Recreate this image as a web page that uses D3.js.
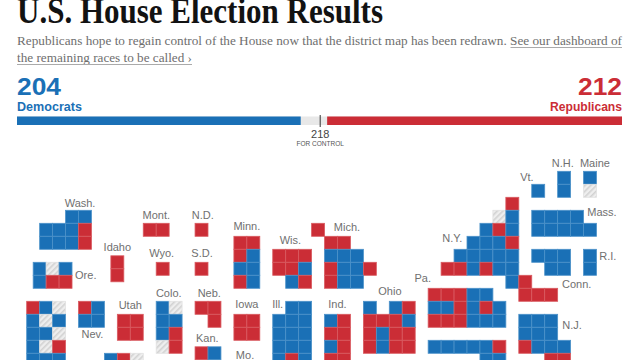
<!DOCTYPE html>
<html><head><meta charset="utf-8">
<script src="https://cdn.jsdelivr.net/npm/d3@7"></script>
<style>html,body{margin:0;padding:0;background:#fff;overflow:hidden}svg{display:block}</style>
</head><body><svg id="c" width="640" height="360"></svg>
<script>
const demSeats = 204, repSeats = 212, controlSeats = 218, totalSeats = 435;
const stateNames = ["Wash.","Mont.","N.D.","Idaho","Wyo.","S.D.","Ore.","Colo.","Neb.","Utah","Nev.","Kan.","Minn.","Wis.","Mich.","Iowa","Ill.","Ind.","Ohio","Pa.","Mo.","Vt.","N.H.","Maine","Mass.","N.Y.","R.I.","Conn.","N.J."];
const labelCols = [6.12,12.01,15.59,9.0,12.42,15.54,6.56,12.97,16.1,10.0,7.07,15.95,19.0,22.36,26.73,19.0,21.38,26.0,30.05,32.58,18.86,40.63,43.39,45.88,46.42,34.87,46.87,44.47,44.11];
const labelRows = [3.73,4.65,4.65,7.1,7.57,7.59,9.31,10.65,10.65,11.62,13.85,14.11,5.52,6.59,5.59,11.51,11.51,11.51,10.49,9.54,15.44,1.72,0.69,0.69,4.44,6.44,7.82,9.97,13.11];
// seat blocks: grid origin (column,row) and one string per row. D dem, R rep, T undecided
const blockCols = [3,11,15,8.5,12,15,2.5,12,15,9,6,15,18,21,24,18,21,25,28,33,41,43,45,41,34,45,41,40,2,8,33];
const blockRows = [4,5,5,7.5,8,8,8,11,11,12,11,14.5,6,7,5,12,11,12,11,10,2,1,1,4,3,7,7,12,11,15,14];
const blockSeats = [
 ["..DD","DDDR","DDDR"],["RR"],["R"],["R","R"],["R"],["R"],["DTD","DRR"],
 ["DT","DD","DR","TR"],["RR",".R"],["RR","RR"],["RD","DD"],["RD"],
 ["RR","RD","DD","RD"],["RRR","RRD",".DR"],[ "R..",".RR",".DDD",".RDDR",".RDD"],
 ["RR","RR"],[".DD","DDD","DDD","DDD","DRD"],["DR","RR","DR","RR"],
 ["D.DR","RRRD","RDRR","RDRR"],["RRRDD","DDRDRD","RRRDDD"],
 ["D"],["D","D"],["D","T"],["DDDD","DDDDD"],
 [".....R","....TD","...DRD","..DDDR",".DDDDD","RRDRDD",".....DR","......RRR"],
 ["D","D"],["DDD",".DD"],["DDD","DDD","RDDD","..RR"],
 ["RDT","DTD","DDT","DTR","DDD"],["DRT"],["DDDDDR","....DD"]
];
const titleText = "U.S. House Election Results";
const subText1 = "Republicans hope to regain control of the House now that the district map has been redrawn. See our dashboard of";
const subText2 = "the remaining races to be called ›";

const BLUE="#1a70b6", RED="#cb2d36", GREY="#e8e8e8";
const svg=d3.select("#c");
const defs=svg.append("defs");
const pat=defs.append("pattern").attr("id","hatch").attr("patternUnits","userSpaceOnUse").attr("width",4).attr("height",4).attr("patternTransform","rotate(-45)");
pat.append("rect").attr("width",4).attr("height",4).attr("fill","#eeeeee");
pat.append("rect").attr("width",4).attr("height",1.6).attr("fill","#d2d2d2");

const colX=d3.scaleLinear().domain([0,1]).range([0.8,13.75]);
const rowY=d3.scaleLinear().domain([0,1]).range([158.3,171.3]);
const unit=colX(1)-colX(0);

const tiles=[];
blockSeats.forEach((rows,b)=>rows.forEach((s,r)=>[...s].forEach((p,c)=>{
  if(p!==".") tiles.push({col:blockCols[b]+c,row:blockRows[b]+r,party:p});
})));
const fill=d3.scaleOrdinal().domain(["D","R","T"]).range([BLUE,RED,"url(#hatch)"]);
const edge=d3.scaleOrdinal().domain(["D","R","T"]).range(["#4c92c9","#d95a60","#e2e2e2"]);

svg.append("g").selectAll("rect").data(tiles).join("rect")
 .attr("x",d=>colX(d.col)).attr("y",d=>rowY(d.row))
 .attr("width",unit).attr("height",13)
 .attr("fill",d=>fill(d.party)).attr("stroke",d=>edge(d.party)).attr("stroke-width",0.8);

svg.append("g").selectAll("text").data(stateNames).join("text")
 .attr("x",(d,i)=>colX(labelCols[i])).attr("y",(d,i)=>rowY(labelRows[i]))
 .attr("text-anchor","middle").attr("font-family","Liberation Sans").attr("font-size",11).attr("fill","#707070").text(d=>d);

function T(txt,x,y,o){const t=svg.append("text").attr("x",x).attr("y",y).text(txt);
 Object.entries(o).forEach(([k,v])=>t.attr(k,v));return t;}
const serif="Liberation Serif", sans="Liberation Sans";
T(titleText,17,23,{"font-family":serif,"font-weight":700,"font-size":36,fill:"#121212",textLength:366,lengthAdjust:"spacingAndGlyphs"});
T(subText1,17,45,{"font-family":serif,"font-size":13.2,fill:"#6e6e6e",textLength:605,lengthAdjust:"spacingAndGlyphs"});
T(subText2,17,62,{"font-family":serif,"font-size":13.2,fill:"#6e6e6e",textLength:175,lengthAdjust:"spacingAndGlyphs"});
svg.append("line").attr("x1",510.5).attr("x2",622).attr("y1",47.5).attr("y2",47.5).attr("stroke","#aaa");
svg.append("line").attr("x1",17).attr("x2",192).attr("y1",64.5).attr("y2",64.5).attr("stroke","#aaa");

const seatX=d3.scaleLinear().domain([0,totalSeats]).range([17,622]);
T(String(demSeats),17,95,{"font-family":sans,"font-weight":700,"font-size":24,fill:BLUE,textLength:44,lengthAdjust:"spacingAndGlyphs"});
T("Democrats",17,111,{"font-family":sans,"font-weight":700,"font-size":13,fill:BLUE,textLength:65,lengthAdjust:"spacingAndGlyphs"});
T(String(repSeats),622,95,{"font-family":sans,"font-weight":700,"font-size":24,fill:RED,"text-anchor":"end",textLength:44,lengthAdjust:"spacingAndGlyphs"});
T("Republicans",622,111,{"font-family":sans,"font-weight":700,"font-size":13,fill:RED,"text-anchor":"end",textLength:72,lengthAdjust:"spacingAndGlyphs"});

const barY=116.5, barH=8.5;
svg.append("rect").attr("x",seatX(0)).attr("y",barY).attr("width",seatX(totalSeats)-seatX(0)).attr("height",barH).attr("fill",GREY);
svg.append("rect").attr("x",seatX(0)).attr("y",barY).attr("width",seatX(demSeats)-seatX(0)).attr("height",barH).attr("fill",BLUE);
svg.append("rect").attr("x",seatX(totalSeats-repSeats)).attr("y",barY).attr("width",seatX(repSeats)-seatX(0)).attr("height",barH).attr("fill",RED);
svg.append("line").attr("x1",seatX(controlSeats)).attr("x2",seatX(controlSeats)).attr("y1",115).attr("y2",127).attr("stroke","#333").attr("stroke-width",1);
T(String(controlSeats),seatX(controlSeats),138,{"font-family":sans,"font-size":11,fill:"#444","text-anchor":"middle"});
T("FOR CONTROL",seatX(controlSeats),146,{"font-family":sans,"font-size":6.5,fill:"#555","text-anchor":"middle"});
</script></body></html>
